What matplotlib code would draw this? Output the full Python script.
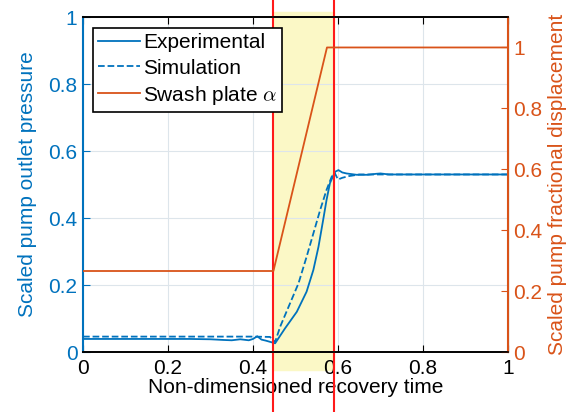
import numpy as np
import matplotlib.pyplot as plt

#### DATA ####
t_exp = [0, 0.05, 0.1, 0.15, 0.2, 0.25, 0.3, 0.33, 0.35, 0.37, 0.39, 0.40, 0.41,
         0.42, 0.43, 0.452, 0.475, 0.503, 0.526, 0.542, 0.554, 0.565, 0.573,
         0.581, 0.593, 0.601, 0.61, 0.62, 0.644, 0.67, 0.69, 0.70, 0.72,
         0.8, 0.9, 1.0]
p_exp = [0.039, 0.039, 0.039, 0.039, 0.039, 0.039, 0.038, 0.036, 0.035, 0.038,
         0.035, 0.039, 0.047, 0.037, 0.034, 0.026, 0.07, 0.12, 0.18, 0.245,
         0.314, 0.394, 0.454, 0.504, 0.538, 0.543, 0.536, 0.533, 0.529, 0.529,
         0.532, 0.533, 0.53, 0.53, 0.53, 0.53]

t_sim = [0, 0.1, 0.2, 0.3, 0.4, 0.44, 0.452, 0.464, 0.487, 0.507, 0.526, 0.542,
         0.558, 0.573, 0.585, 0.592, 0.6, 0.61, 0.625, 0.65, 0.7, 1.0]
p_sim = [0.046, 0.046, 0.046, 0.046, 0.046, 0.045, 0.03, 0.076, 0.145, 0.205,
         0.284, 0.354, 0.424, 0.484, 0.523, 0.535, 0.515, 0.52, 0.525, 0.53,
         0.53, 0.53]

t_swash = [0, 0.448, 0.574, 1.0]
a_swash = [0.266, 0.266, 1.0, 1.0]

t_start, t_end = 0.448, 0.591

xticks = [0, 0.2, 0.4, 0.6, 0.8, 1]
yticks = [0, 0.2, 0.4, 0.6, 0.8, 1]
yticks_right = [0, 0.2, 0.4, 0.6, 0.8, 1]

blue = '#0072BD'
orange = '#D95319'
red = '#FF1A1A'

plt.rcParams['font.family'] = ['Liberation Sans', 'DejaVu Sans']
plt.rcParams['mathtext.fontset'] = 'cm'

#### PLOT ####
fig = plt.figure(figsize=(5.71, 4.12), dpi=100)
ax = fig.add_axes([0.1454, 0.1456, 0.7443, 0.8131])
ax2 = ax.twinx()

ax.axvspan(t_start, t_end, ymin=-0.054, ymax=1.015, color='#FBF8C6', zorder=0, clip_on=False)
for tv in [t_start, t_end]:
    ax.axvline(tv, ymin=-0.18, ymax=1.06, color=red, lw=1.5, zorder=5, clip_on=False)

l1, = ax.plot(t_exp, p_exp, '-', color=blue, lw=1.3, label='Experimental')
l2, = ax.plot(t_sim, p_sim, '--', color=blue, lw=1.3, label='Simulation')
l3, = ax2.plot(t_swash, a_swash, '-', color=orange, lw=1.3, label=r'Swash plate $\alpha$')

ax.set_xlim(0, 1)
ax.set_ylim(0, 1)
ax2.set_ylim(0, 1.1)
ax.set_xticks(xticks)
ax.set_xticklabels([f'{v:g}' for v in xticks])
ax.set_yticks(yticks)
ax.set_yticklabels([f'{v:g}' for v in yticks])
ax2.set_yticks(yticks_right)
ax2.set_yticklabels([f'{v:g}' for v in yticks_right])

ax.grid(True, color='#dde5eb', lw=0.8)
ax.set_axisbelow(True)

ax.tick_params(axis='x', direction='in', labelsize=15, length=5, pad=5, top=True)
ax.tick_params(axis='y', direction='in', labelsize=15, length=5, colors=blue, pad=4)
ax2.tick_params(axis='y', direction='in', labelsize=15, length=5, colors=orange, pad=4)

ax.spines['left'].set_color(blue)
ax.spines['left'].set_linewidth(1.5)
ax2.spines['left'].set_visible(False)
ax2.spines['right'].set_color(orange)
ax2.spines['right'].set_linewidth(1.5)
for s in ['top', 'bottom']:
    ax.spines[s].set_linewidth(1.2)
    ax2.spines[s].set_linewidth(1.2)

ax.set_xlabel('Non-dimensioned recovery time', fontsize=15, labelpad=0)
ax.set_ylabel('Scaled pump outlet pressure', fontsize=15, color=blue, labelpad=8)
ax2.set_ylabel('Scaled pump fractional displacement', fontsize=15, color=orange, labelpad=4)

ax2.set_zorder(ax.get_zorder() + 1)
ax2.patch.set_visible(False)

leg = ax2.legend([l1, l2, l3], ['Experimental', 'Simulation', r'Swash plate $\alpha$'],
                 loc='upper left', bbox_to_anchor=(0.0235, 0.967), fontsize=15,
                 frameon=True, fancybox=False, edgecolor='black', framealpha=1,
                 handlelength=2.0, handletextpad=0.15, borderpad=0.25,
                 labelspacing=0.3, borderaxespad=0)
leg.get_frame().set_linewidth(1.2)

plt.savefig('out.png', dpi=100)
